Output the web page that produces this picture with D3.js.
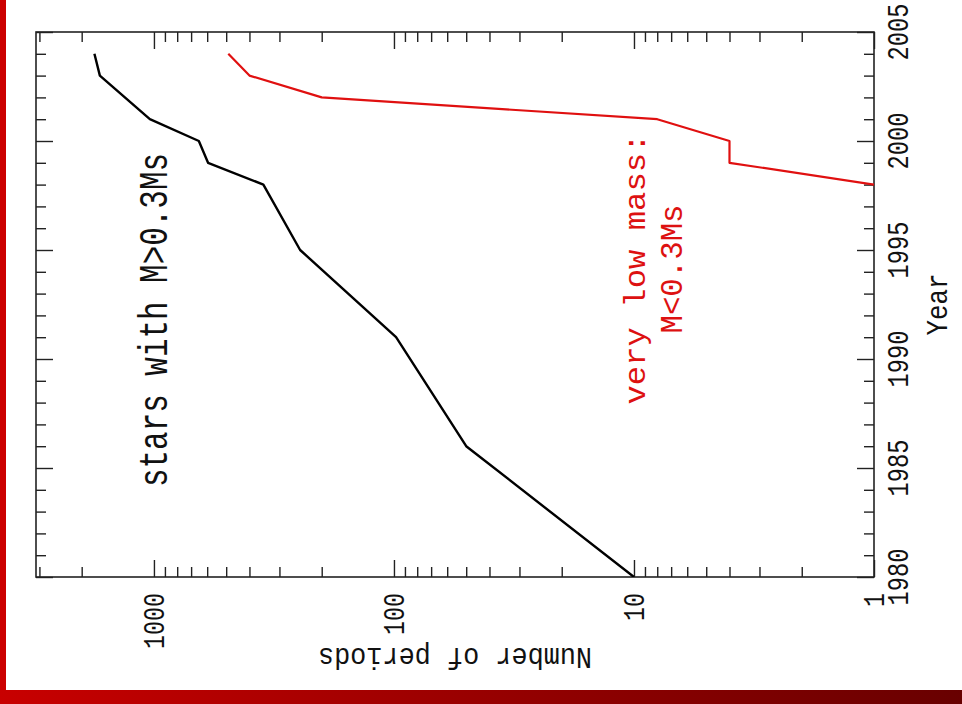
<!DOCTYPE html>
<html>
<head>
<meta charset="utf-8">
<script src="https://cdn.jsdelivr.net/npm/d3@7"></script>
<style>
  body { margin: 0; background: #fff; }
  svg { display: block; }
  text { font-family: "Liberation Mono", "DejaVu Sans Mono", monospace; }
</style>
</head>
<body>
<svg id="chart" width="962" height="704"></svg>
<script>

var W = 962, H = 704;

/** data **/
var yearLabels = ["1980", "1985", "1990", "1995", "2000", "2005"];
var countLabels = ["1", "10", "100", "1000"];

var massiveYears  = [1980, 1986, 1991, 1995, 1998, 1999, 2000, 2001, 2003, 2004];
var massiveCounts = [10,   50,   98,   246,  350,  595,  650,  1040, 1680, 1770];

var lowMassYears  = [1998, 1999, 2000, 2001, 2002, 2003, 2004];
var lowMassCounts = [1,    4,    4,    8,    200,  400,  490];

// frame of the (rotated) plot
var frame = {left: 36, right: 874, top: 32, bottom: 577},
    majorLen = 17,
    minorLen = 10;

var svg = d3.select("#chart");

// page border, red bar left and a darkening bar at the bottom
var grad = svg.append("defs").append("linearGradient")
    .attr("id", "barGrad")
    .attr("x1", "0%").attr("x2", "100%");
grad.append("stop").attr("offset", "0%").attr("stop-color", "#c80000");
grad.append("stop").attr("offset", "100%").attr("stop-color", "#680000");

svg.append("rect")
    .attr("x", 0).attr("y", 0)
    .attr("width", 6).attr("height", 690)
    .attr("fill", "#cc0000");
svg.append("rect")
    .attr("x", 0).attr("y", 690)
    .attr("width", W).attr("height", H - 690)
    .attr("fill", "url(#barGrad)");

// year runs up the page, count runs right-to-left (log)
var yearScale = d3.scaleLinear()
    .domain([1980, 2005])
    .range([frame.bottom, frame.top]);

var countScale = d3.scaleLog()
    .domain([1, 3100])
    .range([frame.right, frame.left]);

var majorYears = yearLabels.map(Number);
var minorYears = d3.range(1980, 2006).filter(function(y){ return majorYears.indexOf(y) < 0; });
var majorCounts = countLabels.map(Number);
var minorCounts = countScale.ticks().filter(function(c){ return majorCounts.indexOf(c) < 0; });

// ticks with d3 axes, all pointing into the frame, no labels
function tickAxis(axisFn, scale, values, len){
    return axisFn(scale).tickValues(values).tickSize(len).tickFormat("");
}

var axes = svg.append("g").attr("class", "ticks");

function drawAxis(axis, tx, ty){
    var g = axes.append("g")
        .attr("transform", "translate(" + tx + "," + ty + ")")
        .call(axis);
    g.select(".domain").remove();
    g.selectAll("line").attr("stroke", "#222").attr("stroke-width", 1.4);
}

// year ticks on left (pointing right) and right (pointing left)
drawAxis(tickAxis(d3.axisRight, yearScale, majorYears, majorLen), frame.left, 0);
drawAxis(tickAxis(d3.axisRight, yearScale, minorYears, minorLen), frame.left, 0);
drawAxis(tickAxis(d3.axisLeft, yearScale, majorYears, majorLen), frame.right, 0);
drawAxis(tickAxis(d3.axisLeft, yearScale, minorYears, minorLen), frame.right, 0);

// count ticks on top (pointing down) and bottom (pointing up)
drawAxis(tickAxis(d3.axisBottom, countScale, majorCounts, majorLen), 0, frame.top);
drawAxis(tickAxis(d3.axisBottom, countScale, minorCounts, minorLen), 0, frame.top);
drawAxis(tickAxis(d3.axisTop, countScale, majorCounts, majorLen), 0, frame.bottom);
drawAxis(tickAxis(d3.axisTop, countScale, minorCounts, minorLen), 0, frame.bottom);

svg.append("rect")
    .attr("x", frame.left).attr("y", frame.top)
    .attr("width", frame.right - frame.left)
    .attr("height", frame.bottom - frame.top)
    .attr("fill", "none")
    .attr("stroke", "#222")
    .attr("stroke-width", 1.6);

// lines
svg.append("clipPath").attr("id", "plotClip")
    .append("rect")
    .attr("x", frame.left).attr("y", frame.top)
    .attr("width", frame.right - frame.left)
    .attr("height", frame.bottom - frame.top);

var line = d3.line()
    .x(function(d){ return countScale(d.n); })
    .y(function(d){ return yearScale(d.year); });

var massive = massiveYears.map(function(y, i){ return {year: y, n: massiveCounts[i]}; });
var lowMass = lowMassYears.map(function(y, i){ return {year: y, n: lowMassCounts[i]}; });

var plot = svg.append("g").attr("clip-path", "url(#plotClip)");

plot.append("path")
    .datum(massive)
    .attr("d", line)
    .attr("fill", "none")
    .attr("stroke", "#000")
    .attr("stroke-width", 2.4)
    .attr("stroke-linejoin", "round");

plot.append("path")
    .datum(lowMass)
    .attr("d", line)
    .attr("fill", "none")
    .attr("stroke", "#e01010")
    .attr("stroke-width", 2.2)
    .attr("stroke-linejoin", "round");

// text, everything is turned on its side
function sideText(txt, x, y, size, anchor, color, len){
    var t = svg.append("text")
        .attr("transform", "translate(" + x + "," + y + ") rotate(-90)")
        .attr("text-anchor", anchor)
        .attr("font-size", size)
        .attr("fill", color)
        .text(txt);
    if (len) t.attr("textLength", len).attr("lengthAdjust", "spacingAndGlyphs");
    return t;
}

// year labels, right of the frame
yearLabels.forEach(function(lbl){
    sideText(lbl, 908, yearScale(+lbl), 30, "middle", "#111", 57);
});
sideText("Year", 947, (frame.top + frame.bottom) / 2, 30, "middle", "#111", 62);

// count labels below the frame
countLabels.forEach(function(lbl){
    sideText(lbl, countScale(+lbl) + 10, 593, 30, "end", "#111", lbl.length * 14);
});

// y title upside down
svg.append("text")
    .attr("transform", "translate(" + (frame.left + frame.right) / 2 + ",648) rotate(180)")
    .attr("text-anchor", "middle")
    .attr("font-size", 30)
    .attr("fill", "#111")
    .attr("textLength", 274)
    .attr("lengthAdjust", "spacingAndGlyphs")
    .text("Number of periods");

// annotations
sideText("stars with M>0.3Ms", 167, 320, 40, "middle", "#111", 334);
sideText("very low mass:", 645, 269, 30, "middle", "#dd1111", 271);
sideText("M<0.3Ms", 682, 269, 32, "middle", "#dd1111", 129);

</script>
</body>
</html>
